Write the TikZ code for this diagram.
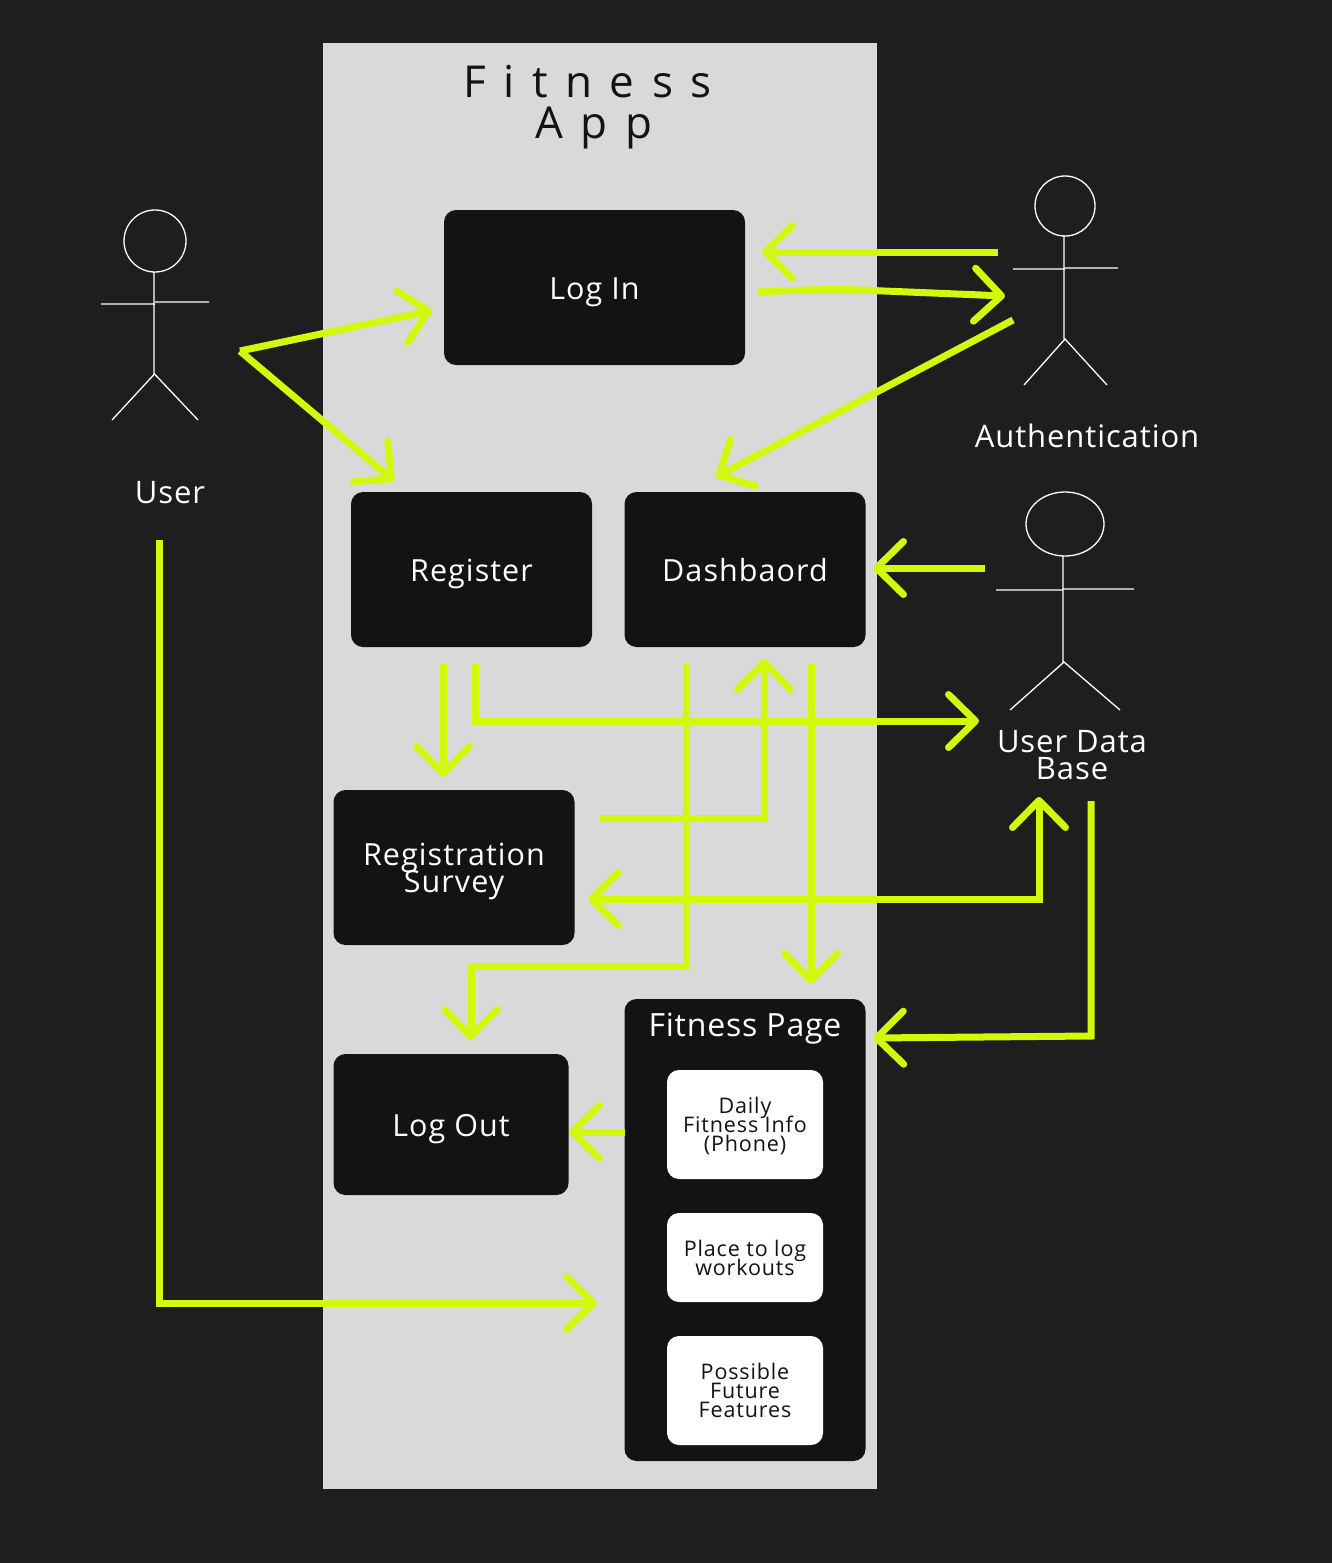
\documentclass[tikz,border=0pt]{standalone}
\usepackage{fontspec}
\setmainfont{Open Sans}
\usetikzlibrary{arrows.meta}
\definecolor{bgc}{HTML}{1E1E1E}
\definecolor{panelc}{HTML}{D9D9D9}
\definecolor{boxc}{HTML}{131313}
\definecolor{limec}{HTML}{D4F80B}
\AtBeginDocument{\normallineskiplimit=-100pt\relax\lineskiplimit=-100pt\relax}
\tikzset{
  x=1pt,y=-1pt,
  boxnode/.style={fill=boxc,rounded corners=12pt,text=white,align=center,inner sep=0pt,text depth=0pt,font=\fontsize{30.5}{27}\selectfont\addfontfeature{LetterSpace=3.5}},
  oneline/.style={text height=23pt,text depth=0pt},
  cardnode/.style={fill=white,rounded corners=12pt,text=boxc,align=center,inner sep=0pt,minimum width=156pt,font=\fontsize{21.5}{19}\selectfont\addfontfeature{LetterSpace=4}},
  lbl/.style={text=white,align=center,inner sep=0pt,font=\fontsize{31}{27}\selectfont\addfontfeature{LetterSpace=3}},
  link/.style={draw=limec,line width=7pt,line join=miter},
  tip/.style={-{Straight Barb[length=27pt,width=53pt,round]}},
  tips/.style={{Straight Barb[length=27pt,width=53pt,round]}-{Straight Barb[length=27pt,width=53pt,round]}},
  actor/.style={draw=white,line width=1.3pt},
}
\begin{document}
\begin{tikzpicture}
\useasboundingbox (0,0) rectangle (1332,1563);
\fill[bgc] (0,0) rectangle (1332,1563);
\fill[panelc] (323,43) rectangle (877,1489);

\node[inner sep=0pt,align=center,text=boxc,font=\fontsize{44}{41}\selectfont\addfontfeature{LetterSpace=40}] (title) at (587.5,107) {Fitness\\\hspace*{13pt}App};

\node[boxnode,oneline,minimum width=301pt,minimum height=155pt] (login) at (594.5,287.5) {Log In};
\node[boxnode,oneline,minimum width=241pt,minimum height=155pt] (register) at (471.5,569.5) {Register};
\node[boxnode,oneline,minimum width=241pt,minimum height=155pt] (dash) at (745,569.5) {Dashbaord};
\node[boxnode,minimum width=241pt,minimum height=155pt] (survey) at (454,867.5) {Registration\\Survey};
\node[boxnode,oneline,minimum width=235pt,minimum height=141pt] (logout) at (451,1124.5) {Log Out};
\node[boxnode,minimum width=241pt,minimum height=462pt] (fitness) at (745,1230) {};
\node[lbl,font=\fontsize{32}{27}\selectfont\addfontfeature{LetterSpace=2.5}] (fitnesstitle) at (745,1029) {Fitness Page};
\node[cardnode,minimum height=109pt,text depth=0pt] (daily) at (745,1124.5) {Daily\\Fitness Info\\(Phone)};
\node[cardnode,minimum height=89pt] (place) at (745,1257.5) {Place to log\\workouts};
\node[cardnode,minimum height=109pt] (future) at (745,1390.5) {Possible\\Future\\Features};

\node[lbl] (userlabel) at (170,493) {User};
\node[lbl] (authlabel) at (1087,436) {Authentication};
\node[lbl] (dblabel) at (1072,755) {User Data\\Base};

% actors
\draw[actor] (155,241) circle (31);
\draw[actor] (154,272) -- (154,374) (101,304) -- (155,304) (155,302) -- (209,302)
  (112,420) -- (154.5,374) -- (198,420);
\draw[actor] (1065,206) circle (30);
\draw[actor] (1064,235) -- (1064,339) (1013,269) -- (1065,269) (1065,268) -- (1118,268)
  (1024,385) -- (1065,339) -- (1107,385);
\draw[actor] (1065,524) ellipse (39 and 32);
\draw[actor] (1063,556) -- (1063,662) (996,590) -- (1063,590) (1063,589) -- (1134,589)
  (1010,710) -- (1064,662) -- (1120,710);

% connector ends
\coordinate (uv) at (240,351);
\coordinate (loginin) at (432,310.5);
\coordinate (regin) at (394,481);
\coordinate (authout) at (998,252);
\coordinate (loginauth) at (762,252);
\coordinate (loginout) at (758,292);
\coordinate (authin) at (1005,296);
\coordinate (authdash) at (1013,320);
\coordinate (dashin) at (716,477);
\coordinate (dbdash) at (985,568);
\coordinate (dashr) at (873,568);
\coordinate (regdown) at (443,664);
\coordinate (surveytop) at (443,777);
\coordinate (regright) at (475,664);
\coordinate (dbin) at (979,721);
\coordinate (surveyout) at (600,818);
\coordinate (dashbot) at (764,659);
\coordinate (surveyr) at (588,899);
\coordinate (dblab) at (1039,797);
\coordinate (dashl) at (686,664);
\coordinate (logouttop) at (471,1040);
\coordinate (dashm) at (811,664);
\coordinate (fittop) at (811,984);
\coordinate (dbout) at (1091,801);
\coordinate (fitr) at (873,1038);
\coordinate (fitl) at (625,1132);
\coordinate (logoutr) at (569,1132);
\coordinate (userout) at (159,540);
\coordinate (fitin) at (597,1303);

\draw[link,tip] (uv) -- (loginin);
\draw[link,tip] (uv) -- (regin);
\draw[link,tip] (authout) -- (loginauth);
\draw[link,tip] (loginout) .. controls (800,290) and (830,289) .. (860,290) -- (authin);
\draw[link,tip] (authdash) -- (dashin);
\draw[link,tip] (dbdash) -- (dashr);
\draw[link,tip] (regdown) -- (surveytop);
\draw[link,tip] (regright) |- (dbin);
\draw[link,tip] (surveyout) -| (dashbot);
\draw[link,tips] (surveyr) -| (dblab);
\draw[link,tip] (dashl) |- (471,966) -- (logouttop);
\draw[link,tip] (dashm) -- (fittop);
\draw[link,tip] (dbout) |- (1091,1036) -- (fitr);
\draw[link,tip] (fitl) -- (logoutr);
\draw[link,tip] (userout) |- (fitin);
\end{tikzpicture}
\end{document}
